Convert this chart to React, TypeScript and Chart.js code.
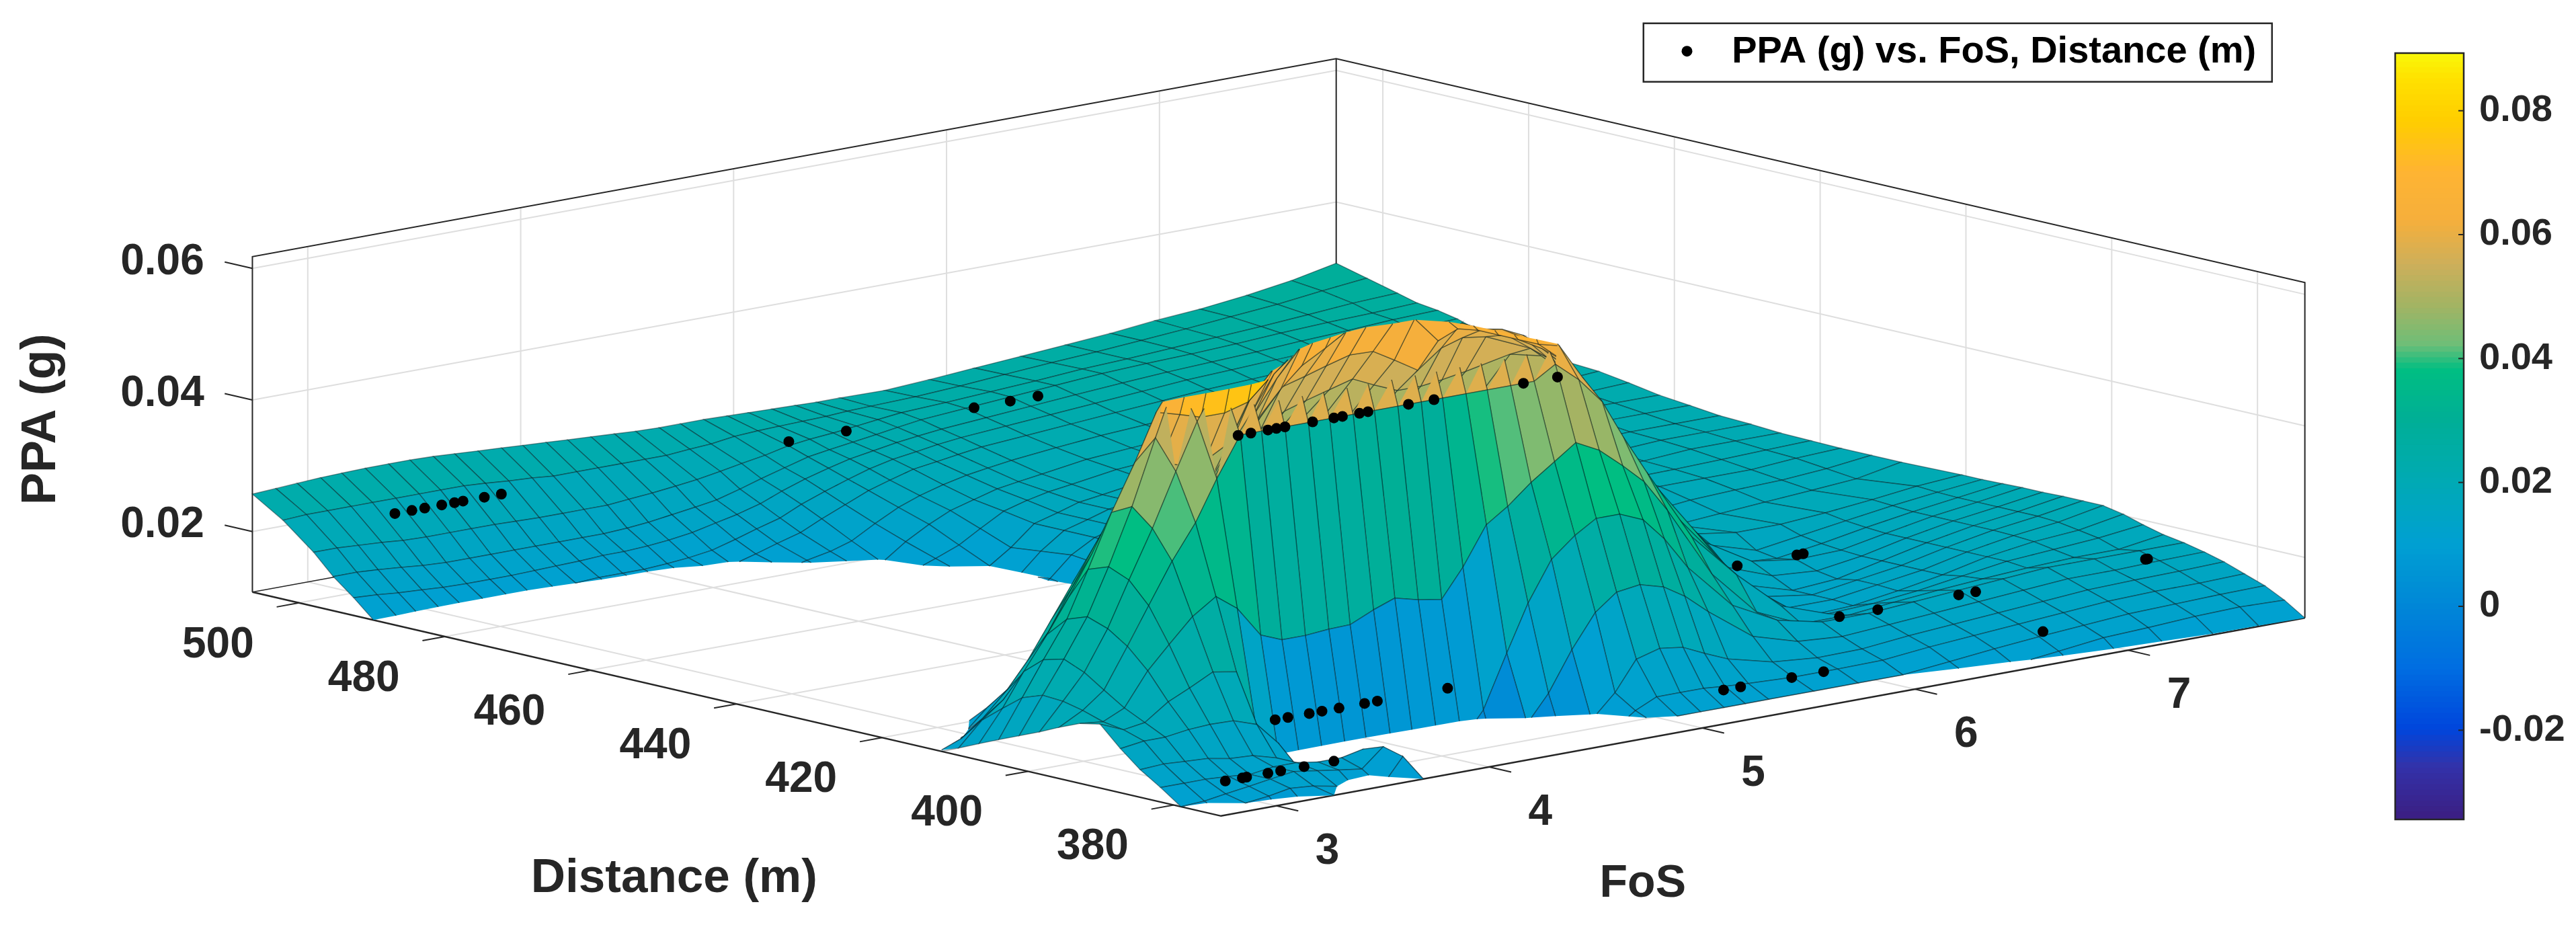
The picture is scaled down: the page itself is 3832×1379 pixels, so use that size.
import React, { useEffect, useRef } from "react";
import { Chart, registerables } from "chart.js";

Chart.register(...registerables);

// ---------- axes ----------
const fosRange = [2.74, 7.83];
const distanceRange = [373.5, 506.4];
const ppaRange = [0.0108, 0.0618];
const colorRange = [-0.0344, 0.0893];
const fosTicks = [3, 4, 5, 6, 7];
const distanceTicks = [380, 400, 420, 440, 460, 480, 500];
const ppaTicks = [0.02, 0.04, 0.06];
const colorTicks = [-0.02, 0, 0.02, 0.04, 0.06, 0.08];

// ---------- fitted surface: PPA in milli-g on a Distance x FoS mesh ----------
const meshFoS = [2.74, 2.85, 2.95, 3.06, 3.16, 3.27, 3.38, 3.48, 3.59, 3.69, 3.8, 3.91, 4.01, 4.12, 4.22, 4.33, 4.44, 4.54, 4.65, 4.75, 4.86, 4.97, 5.07, 5.18, 5.29, 5.39, 5.5, 5.71, 5.92, 6.13, 6.35, 6.56, 6.77, 6.98, 7.19, 7.41, 7.62, 7.83];
const meshDistance = [373.5, 376.3, 379, 381.8, 384.6, 387.3, 390.1, 392.9, 395.7, 398.4, 401.2, 404, 406.7, 409.5, 412.3, 415, 417.8, 420.6, 428.9, 433, 437.2, 441.3, 445.5, 449.6, 453.8, 457.9, 462.1, 466.3, 470.4, 474.6, 478.7, 482.9, 487, 489.8, 492.5, 495.3, 498, 502.2, 506.4];
const d373 = [5,6,7,8,9,10.8,9,9,9,10.8,0,0,0,0,0,0,1,2,3,4,5,5.5,6,6.5,7,7,7,7.5,7.5,7.5,8,8.5,9,9.5,10,10.5,10.6,10.8];
const d376 = [8,9.5,10.8,11.2,11.8,11.5,10.8,9.5,9.5,13.5,0,0,0,0,0,2,3,4,5,7,7.5,8,8.5,8.8,9,9.2,9.3,9.5,9.5,9.5,10,10.5,11.3,12.1,12.4,12.8,13,12.8];
const d379 = [10.8,11,11.5,12,12.5,13,12.5,12,11.5,14.3,0,0,0,0,0,3,4,5,6,8,9.5,10.2,10.8,10.8,10.8,10.8,10.8,10.8,10.8,10.8,11.5,12.2,12.8,13.3,13.8,14,14.2,14.3];
const d382 = [13,13,13,12.8,12.5,13,13,12.5,12.5,13.2,0,0,0,0,0,2,2,3,4,6,9,11.5,13,13,13,12.7,12.5,12.2,12.2,12.3,13,13.5,14,14.5,15,15.2,15.2,15.4];
const d385 = [15,15.2,15,14.8,14.2,14,13,11,9,6,4,2,2,2,2,2,2,2,2,5,10,13.5,18,19,18.5,17,15.5,13.8,13.2,13.3,14,14.5,15,15.5,16,16.2,16.3,16.5];
const d387 = [17.5,18,18,18.5,18.7,18.6,17.4,14,9,5,3,2,2,2,2,2,2,2,10,14,20,25,27.5,28,27,25,22,17,15,14.5,15,15.5,16,16.5,17,17,17.2,17.3];
const d390 = [20.5,19,19.5,22,23.5,25.3,24.7,14,8,7,6.5,6,6,6.5,7,7.5,8,12,20,27,33,36,38,38,36.5,33,28,21,17.5,16,16,16.5,17,17.5,18,18,18,18];
const d393 = [19.9,19.5,21,26,29.4,33,35.4,33,28.3,27,27,27.3,27.4,29,30.2,29.3,28.7,33,38.8,41,44,46.5,48.8,47,44,41,36,25,18,15,15,15.7,16.3,16.8,17.2,17.5,17.5,18.5];
const d396 = [18.6,20.5,23,29,34.6,40.7,45.9,52,58,58,58,58,58,58,58,58,58,58,58,58,58,58,60,57,53,47,41,30,23,17,14.5,14.8,15.5,16.5,17.5,18,18.5,19.3];
const d398 = [17.2,21.2,25,31,37.8,45,53,60,66,68,70,70,70,70,70,70,70,70,70,70,70,68,66,61.5,56,50,43,33,25,17,13.5,13.8,14.8,16,17.5,18.5,19,20.2];
const d401 = [15.9,21.4,26.3,32.1,39.1,47.6,57.4,66,72,74,75,76,77,78,78,78,78,78,78,78,76,74,70,61,58,54,47,37,28,19,14,14,15,16,17.5,18.7,19.5,20.8];
const d404 = [14.6,20.3,25.5,31,38,46,53,60,59,58,58,59,62,64,66,68,70,71,71,71,70,68,66,61,59,56,51,40,30,20.5,15,14,15,16,17.5,18.8,19.7,20.8];
const d407 = [13.3,18,23,28,33,39,45,50,51,50,50,52,58,62,64,66,68,70,71,71,70,68,66,61,60,58,54,43,32,22.5,16,14,14.5,16,17.5,18.8,19.7,20.8];
const d410 = [11.9,15.5,18,22,27,33,39,44,44,43,43,45,50,55,60,63,65,67,69,70,69,67,65,61,60.5,59,56,46,35,25,18,15.5,15,16,17.5,18.8,19.7,20.7];
const d412 = [10.6,12,14.5,18,22,27.5,33,37,37,36,36,38,43,48,53,58,62,65,67,68,67,66,64,60.5,59.8,58.5,57,50,39,29,21,17,16,16.2,17.5,18.8,19.7,20.7];
const d415 = [8,9.5,11,13.5,17,21,26,31,30,29,30,32,36,41,46,51,55,58,60,62,63,62,62,58,60,58.5,57,52,42,31,21,16,15.5,16.5,17.7,18.8,19.7,20.6];
const d418 = [7,8,9,10.5,13.5,16,20,25,24,24,25,28,31,36,41,46,50,54,55,56,57,56.9,55,52.8,55.5,56.5,56,53,47,34,25,18,16,17,18,19,19.8,20.5];
const d421 = [6,7,8,9,10.5,11.5,14,16,18,19,20,23,27,31,36,40,44,47,49,50,51,52,50.5,49,49,49.4,50,51.4,49.8,38,27,19,18,18,18.5,19.2,20,20.5];
const d429 = [-8,-8,-8,-8,-8,-8,-6,-4,-2,0,2,12,14,17,20,24,28,31,35,38,39,38,37,36,36,36.5,37,37,34,28,22,18,17,17.5,18,18.5,19,20.3];
const d433 = [0,0,0,0,0,0,0,0,0,0,0,8,9,10,12,14,17,19,22,24,24,24,25.5,26.5,28,29.5,31,31.5,30.5,26.5,21.5,18.5,17.8,18.5,18.8,19,19.5,20.3];
const d437 = [4,4,4,4,4,5,5,5,5,5,6,6,6,7,8,9,10,10,10,10,10,10,14,17,20,23,25,26,27,25,21,19,18.5,19.5,19.5,19.5,20,20.3];
const d441 = [4,4,4,4,4,4,4,4,4,4,4,5,5,5.5,6,7,7,7,8,8,8,9,13,16,19,21,22.5,23.5,24.5,23.5,20.8,19.2,19,19.7,19.8,20,20.2,20.4];
const d445 = [4,4,4,4,4,4,4,4,4,4,4,5,5,5,5,6,6,6,7,7,7,8,12,15,18,19,20,21,22,22,20.5,19.5,19.5,20,20,20.5,20.5,20.5];
const d450 = [4,4,4,4,4,4,4,4,4.5,4.5,4.5,5,5,5.5,5.5,6,6.5,6.5,7,7.5,7.5,8.5,12.5,15,17.5,18.5,19.2,20.2,21,21.2,20.2,19.8,19.8,20.2,20.4,20.8,20.8,20.8];
const d454 = [4,4,4,4,4,4,4,4,5,5,5,5,5,6,6,6,7,7,7,8,8,9.5,13,15,17,18,18.5,19.5,20,20.5,20,20,20,20.5,20.8,21,21,21];
const d458 = [4.5,4.5,4.5,4.5,4.5,4.5,4.5,4.5,5,5.5,5.5,5.5,5.5,6.5,6.5,6.5,7.5,7.5,7.5,8.5,8.5,10.2,13.5,15.5,17,18,18.5,19.5,20,20.5,20.2,20.2,20.4,21,21.3,21.5,21.5,21.5];
const d462 = [5,5,5,5,5,5,5,5,5,6,6,6,6,7,7,7,8,8,8,9,9,11,14,16,17,18,18.5,19.5,20,20.5,20.5,20.5,20.8,21.5,21.8,22,22,22];
const d466 = [5,5,5,5,5,5,5.5,5.5,5.5,6,6.5,6.5,6.5,7.5,7.5,7.5,8.5,8.5,8.5,9.5,9.5,10.5,13.5,16,17,18,18.5,19.5,20,20.5,20.8,20.8,21.2,21.8,22.2,22.5,22.5,22.8];
const d470 = [5,5,5,5,5,5,6,6,6,6,7,7,7,8,8,8,9,9,9,10,10,10.8,13,16,17,18,18.5,19.5,20,20.5,21,21,21.5,22,22.5,23,23,23.5];
const d475 = [6,6,6,6,6,6,6,6,6,7,7.5,7.5,7.5,8,8,8.2,9,9.2,9.5,10.2,11.5,12.9,14.8,16.8,17.8,18.5,19,20,20.5,21,21.5,21.5,22,22.5,22.8,23.2,23.4,23.8];
const d479 = [7,7,7,7,7,7,7,7,7,8,8,8,8,8,8,8.5,9,9.5,10,10.5,13,15,16.5,17.5,18.5,19,19.5,20.5,21,21.5,22,22,22.5,23,23.2,23.5,23.8,24];
const d483 = [8.2,8.2,8.2,8.2,8.2,8.2,8.2,8.2,8.2,8.8,8.8,9,9,9,9.2,9.5,10.2,11,11.7,12.7,14.7,16.5,17.7,18.7,19.5,20,20.5,21.2,21.8,22.2,22.8,23.2,23.6,23.9,24.1,24.3,24.5,24.8];
const d487 = [9.5,9.5,9,9,9,9,9,9,9.5,9.5,9.5,10,10,10,10.5,10.5,11.5,12.5,13.5,15,16.5,18,19,20,20.5,21,21.5,22,22.5,23,23.5,24,24.3,24.6,24.9,25.2,25.5,25.5];
const d490 = [10.8,10.7,10.5,10.4,10.4,10.4,10.4,10.4,10.6,10.8,11,11,11,11.2,11.5,12,13,14,15,16.5,17.8,19,20,20.8,21.3,21.8,22.2,22.7,23.2,23.7,24.2,24.7,25,25.3,25.6,25.9,26.2,26.5];
const d493 = [13.5,13.3,13,12.8,12.6,12.5,12.5,12.5,12.6,12.7,12.8,13,13,13.2,13.5,14,14.8,15.5,16.5,17.8,19,20,20.8,21.4,22,22.4,22.8,23.3,23.8,24.3,24.8,25.2,25.5,25.8,26.2,26.5,26.9,27.1];
const d495 = [16,16,15.8,15.5,15.2,15,15,15,15,15,15,15,15,15.2,15.5,16,16.5,17,18,19,20,21,21.5,22,22.5,23,23.5,24,24.5,25,25.5,25.8,26,26.3,26.7,27,27.2,27.5];
const d498 = [19,19,18.8,18.6,18.3,18.2,18.2,18.2,18.2,18.1,18,18,18,18,18.3,18.6,19,19.4,20,20.6,21.2,22,22.4,22.7,23.1,23.5,23.9,24.2,24.6,25,25.5,25.8,26.2,26.6,27,27.5,28,28.3];
const d502 = [22.8,23,23,23,23,23,23,23,23,22.8,22.5,22.3,22,22,22,22,22,22,22.3,22.5,23,23.2,23.3,23.4,23.5,23.7,23.8,24,24.4,24.9,25.4,25.8,26.3,26.8,27.4,28,28.8,29.5];
const d506 = [25.7,25.9,26.1,26.3,26.4,26.5,26.5,26.5,26.4,26.2,26,25.8,25.6,25.4,25.2,25,24.8,24.6,24.5,24.5,24.5,24.4,24.3,24.2,24.1,24,24,23.9,24.3,24.8,25.3,25.8,26.3,27,27.5,28.3,29.3,30.7];
const meshPPA = [d373,d376,d379,d382,d385,d387,d390,d393,d396,d398,d401,d404,d407,d410,d412,d415,d418,d421,d429,d433,d437,d441,d445,d450,d454,d458,d462,d466,d470,d475,d479,d483,d487,d490,d493,d495,d498,d502,d506];

// ---------- measured points: one PPA per distance, listed FoS values ----------
const pointDistance = [373.5, 380.1, 395.7, 413.4, 390.4, 492.4];
const pointPPA = [0.016, 0.0209, 0.058, 0.0162, 0.0164, 0.0252];
const pointFoS = [
  [2.76,2.84,2.86,2.96,3.02,3.13,3.27,5.1,5.18,5.42,5.57,6.6],
  [3.22,3.28,3.38,3.44,3.52,3.64,3.7,4.03,5.87,6.05,6.43,6.51],
  [3.58,3.64,3.72,3.76,3.8,3.93,4.03,4.07,4.15,4.19,4.38,4.5,4.92,5.08],
  [6.53,6.81,6.84],
  [7.66,7.67],
  [2.93,3.01,3.07,3.15,3.21,3.25,3.35,3.43,4.78,5.05,5.65,5.82,5.95],
];

// ---------- colour map: PPA stop -> colour ----------
const colorStops = [-0.0344, -0.026, -0.02, -0.01, 0, 0.01, 0.02, 0.03, 0.038, 0.042, 0.048, 0.055, 0.062, 0.07, 0.078, 0.085, 0.0893];
const colorValues = [
  [60,30,130],[50,50,170],[0,70,220],[0,110,225],[0,135,215],[0,160,210],[0,170,180],[0,175,150],[0,190,130],
  [110,190,120],[160,180,100],[205,175,90],[245,175,60],[255,180,50],[255,205,0],[255,225,0],[250,250,10],
];
function colorOf(z: number) {
  let k = 0;
  while (k < colorStops.length - 2 && z > colorStops[k + 1]) k++;
  const t = Math.max(0, Math.min(1, (z - colorStops[k]) / (colorStops[k + 1] - colorStops[k])));
  const c = colorValues[k].map((a, n) => Math.round(a + (colorValues[k + 1][n] - a) * t));
  return `rgb(${c[0]},${c[1]},${c[2]})`;
}

// ---------- oblique view of the 3-D box ----------
const view = { x0: 1816, y0: 1220, dxD: -1447, dyD: -337, dxF: 1619, dyF: -298, zScale: 9900 };
function project(f: number, d: number, z: number) {
  const u = (d - distanceRange[0]) / (distanceRange[1] - distanceRange[0]);
  const v = (f - fosRange[0]) / (fosRange[1] - fosRange[0]);
  return {
    x: view.x0 + view.dxD * u + view.dxF * v,
    y: view.y0 + view.dyD * u + view.dyF * v - view.zScale * (z - ppaRange[0]),
  };
}

type V = { f: number; d: number; z: number; grid: boolean };
function clipPlane(poly: V[], limit: number, keepAbove: boolean): V[] {
  const out: V[] = [];
  const inside = (p: V) => (keepAbove ? p.z >= limit : p.z <= limit);
  for (let n = 0; n < poly.length; n++) {
    const a = poly[n];
    const b = poly[(n + 1) % poly.length];
    const ia = inside(a);
    const ib = inside(b);
    if (ia) out.push({ ...a });
    if (ia !== ib) {
      const t = (limit - a.z) / (b.z - a.z);
      out.push({ f: a.f + (b.f - a.f) * t, d: a.d + (b.d - a.d) * t, z: limit, grid: ia ? false : a.grid });
    }
  }
  return out;
}

const lightGrid = "#dedede";
const ink = "#262626";

function lineSet(points: { x: number; y: number }[], color: string, width: number) {
  return { type: "scatter", data: points, showLine: true, borderColor: color, borderWidth: width, pointRadius: 0, fill: false, tension: 0, clip: false };
}

function buildDatasets() {
  const [f0, f1] = fosRange;
  const [d0, d1] = distanceRange;
  const [z0, z1] = ppaRange;
  const paint: any[] = [];
  // back walls and floor grid
  for (const f of fosTicks) {
    paint.push(lineSet([project(f, d0, z0), project(f, d1, z0), project(f, d1, z1)], lightGrid, 2));
  }
  for (const d of distanceTicks) {
    paint.push(lineSet([project(f0, d, z0), project(f1, d, z0), project(f1, d, z1)], lightGrid, 2));
  }
  for (const z of ppaTicks) {
    paint.push(lineSet([project(f0, d1, z), project(f1, d1, z), project(f1, d0, z)], lightGrid, 2));
  }
  // box
  paint.push(lineSet([project(f0, d1, z0), project(f0, d1, z1), project(f1, d1, z1), project(f1, d0, z1), project(f1, d0, z0)], ink, 2));
  paint.push(lineSet([project(f1, d1, z1), project(f1, d1, z0)], ink, 2));
  paint.push(lineSet([project(f0, d1, z0), project(f1, d1, z0), project(f1, d0, z0)], ink, 1.5));
  paint.push(lineSet([project(f0, d1, z0), project(f0, d0, z0), project(f1, d0, z0)], ink, 2.5));
  // tick marks
  for (const d of distanceTicks) {
    paint.push(lineSet([project(f0, d, z0), project(f0 - 0.105, d, z0)], ink, 2));
  }
  for (const f of fosTicks) {
    paint.push(lineSet([project(f, d0, z0), project(f, d0 - 3, z0)], ink, 2));
  }
  for (const z of ppaTicks) {
    paint.push(lineSet([project(f0, d1, z), project(f0, d1 + 3.8, z)], ink, 2));
  }
  // surface, far corner first, flat colour from each cell's first corner
  for (let i = meshDistance.length - 2; i >= 0; i--) {
    for (let j = meshFoS.length - 2; j >= 0; j--) {
      const c = (a: number, b: number): V => ({ f: meshFoS[b], d: meshDistance[a], z: meshPPA[a][b] / 1000, grid: true });
      let poly = [c(i, j), c(i + 1, j), c(i + 1, j + 1), c(i, j + 1)];
      poly = clipPlane(poly, z0, true);
      if (poly.length) poly = clipPlane(poly, z1, false);
      if (poly.length < 3) continue;
      const flags = poly.map((p) => p.grid);
      const pts = poly.map((p) => project(p.f, p.d, p.z));
      pts.push(pts[0]);
      const fillColor = colorOf(meshPPA[i][j] / 1000);
      paint.push({
        type: "scatter",
        data: pts,
        showLine: true,
        fill: "shape",
        backgroundColor: fillColor,
        borderColor: "rgba(0,20,25,0.42)",
        borderWidth: 1.5,
        pointRadius: 0,
        tension: 0,
        clip: false,
        segment: { borderColor: (ctx: any) => (flags[ctx.p0DataIndex] ? "rgba(0,20,25,0.42)" : "rgba(0,0,0,0)") },
      });
    }
  }
  // measured points
  const pts: { x: number; y: number }[] = [];
  pointFoS.forEach((row, k) => row.forEach((f) => pts.push(project(f, pointDistance[k], pointPPA[k]))));
  paint.push({ type: "scatter", label: "PPA (g) vs. FoS, Distance (m)", data: pts, showLine: false, pointRadius: 8, pointBackgroundColor: "#000", pointBorderWidth: 0, clip: false });
  return paint.reverse();
}

const BOLD = '"Liberation Sans", Arial, sans-serif';

const boxText = {
  id: "boxText",
  afterDatasetsDraw(chart: any) {
    const { ctx, scales } = chart;
    const sx = (v: number) => scales.x.getPixelForValue(v);
    const sy = (v: number) => scales.y.getPixelForValue(v);
    const [f0] = fosRange;
    const [d0, d1] = distanceRange;
    const z0 = ppaRange[0];
    ctx.save();
    ctx.fillStyle = ink;
    ctx.textBaseline = "middle";
    ctx.font = `bold 64px ${BOLD}`;
    ctx.textAlign = "right";
    for (const z of ppaTicks) {
      const p = project(f0, d1, z);
      ctx.fillText(z.toFixed(2), sx(p.x - 72), sy(p.y - 9));
    }
    ctx.textAlign = "center";
    for (const d of distanceTicks) {
      const p = project(f0, d, z0);
      ctx.fillText(String(d), sx(p.x - 121), sy(p.y + 64));
    }
    for (const f of fosTicks) {
      const p = project(f, d0, z0);
      ctx.fillText(String(f), sx(p.x + 76), sy(p.y + 69));
    }
    ctx.font = `bold 71px ${BOLD}`;
    ctx.fillText("Distance (m)", sx(999), sy(1315));
    ctx.font = `bold 68px ${BOLD}`;
    ctx.fillText("FoS", sx(2446), sy(1323));
    ctx.save();
    ctx.translate(sx(54), sy(623));
    ctx.rotate(-Math.PI / 2);
    ctx.font = `bold 72px ${BOLD}`;
    ctx.fillText("PPA (g)", 0, 0);
    ctx.restore();
    // legend
    ctx.fillStyle = "#fff";
    ctx.fillRect(sx(2447), sy(27), 935, 87);
    ctx.strokeStyle = ink;
    ctx.lineWidth = 2.5;
    ctx.strokeRect(sx(2447), sy(27), 935, 87);
    ctx.fillStyle = "#000";
    ctx.beginPath();
    ctx.arc(sx(2512), sy(69), 8, 0, Math.PI * 2);
    ctx.fill();
    ctx.textAlign = "left";
    ctx.font = `bold 56px ${BOLD}`;
    ctx.fillText("PPA (g) vs. FoS, Distance (m)", sx(2579), sy(70));
    ctx.restore();
  },
};

const barFrame = {
  id: "barFrame",
  afterDatasetsDraw(chart: any) {
    const { ctx, chartArea: a, scales } = chart;
    ctx.save();
    ctx.strokeStyle = ink;
    ctx.lineWidth = 2.5;
    ctx.strokeRect(a.left, a.top, a.right - a.left, a.bottom - a.top);
    ctx.lineWidth = 2;
    for (const v of colorTicks) {
      const y = scales.y.getPixelForValue(v);
      ctx.beginPath();
      ctx.moveTo(a.right - 8, y);
      ctx.lineTo(a.right, y);
      ctx.stroke();
    }
    ctx.restore();
  },
};

export default function App() {
  const mainRef = useRef<HTMLCanvasElement>(null);
  const barRef = useRef<HTMLCanvasElement>(null);

  useEffect(() => {
    document.body.style.margin = "0";
    const main = new Chart(mainRef.current as HTMLCanvasElement, {
      type: "scatter",
      data: { datasets: buildDatasets() as any },
      plugins: [boxText],
      options: {
        animation: false,
        responsive: false,
        devicePixelRatio: 1,
        events: [],
        layout: { padding: 0 },
        scales: {
          x: { type: "linear", display: false, min: 0, max: 3832 },
          y: { type: "linear", display: false, min: 0, max: 1379, reverse: true },
        },
        plugins: { legend: { display: false }, tooltip: { enabled: false } },
      },
    } as any);

    const levels: any[] = [];
    const steps = 140;
    for (let n = 0; n < steps; n++) {
      const lo = colorRange[0] + ((colorRange[1] - colorRange[0]) * n) / steps;
      const hi = colorRange[0] + ((colorRange[1] - colorRange[0]) * (n + 1.4)) / steps;
      levels.push({ data: [[lo, Math.min(hi, colorRange[1])]], backgroundColor: colorOf((lo + hi) / 2), barPercentage: 1, categoryPercentage: 1, grouped: false, borderWidth: 0 });
    }
    const bar = new Chart(barRef.current as HTMLCanvasElement, {
      type: "bar",
      data: { labels: ["PPA"], datasets: levels },
      plugins: [barFrame],
      options: {
        animation: false,
        responsive: false,
        devicePixelRatio: 1,
        events: [],
        layout: { padding: { left: 23, top: 79, bottom: 160, right: 0 } },
        scales: {
          x: { type: "category", display: false },
          y: {
            type: "linear",
            position: "right",
            min: colorRange[0],
            max: colorRange[1],
            afterFit: (s: any) => { s.width = 167; },
            afterBuildTicks: (s: any) => { s.ticks = colorTicks.map((value) => ({ value })); },
            grid: { display: false, drawTicks: false },
            border: { display: false },
            ticks: { padding: 23, color: ink, font: { family: BOLD, weight: "bold", size: 56 }, callback: (v: any) => String(v) },
          },
        },
        plugins: { legend: { display: false }, tooltip: { enabled: false } },
      },
    } as any);

    return () => {
      main.destroy();
      bar.destroy();
    };
  }, []);

  return (
    <div style={{ position: "absolute", left: 0, top: 0, width: 3832, height: 1379, background: "#fff", overflow: "hidden" }}>
      <canvas ref={mainRef} width={3832} height={1379} style={{ position: "absolute", left: 0, top: 0 }} />
      <canvas ref={barRef} width={292} height={1379} style={{ position: "absolute", left: 3540, top: 0 }} />
    </div>
  );
}
